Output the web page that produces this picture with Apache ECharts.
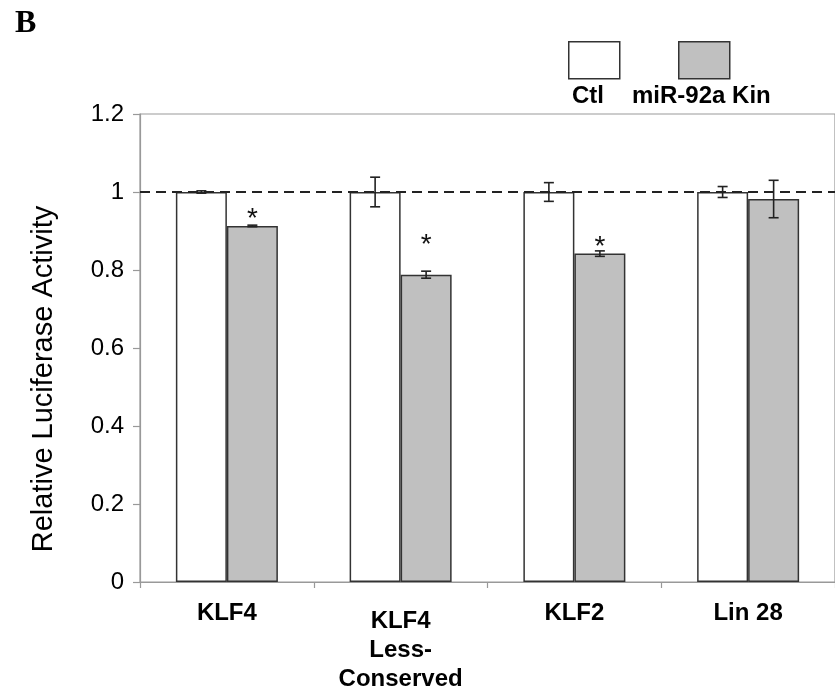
<!DOCTYPE html>
<html>
<head>
<meta charset="utf-8">
<script src="https://cdn.jsdelivr.net/npm/echarts@6/dist/echarts.min.js"></script>
<style>html,body{margin:0;padding:0;background:#fff;}#c{width:835px;height:694px;}</style>
</head>
<body>
<div id="c"></div>
<script>
var categories = ['KLF4', 'KLF4\nLess-\nConserved', 'KLF2', 'Lin 28'];
var ctlValues = [1, 1, 1, 1];
var ctlErr = [0.003, 0.038, 0.024, 0.014];
var kinValues = [0.913, 0.788, 0.842, 0.982];
var kinErr = [0.002, 0.009, 0.007, 0.048];
var starLevels = [0.944, 0.875, 0.872, null];
var seriesNames = ['Ctl', 'miR-92a Kin'];

var BAR_W = 51;
var chart = echarts.init(document.getElementById('c'), null, {renderer: 'canvas'});

function errSeries(vals, errs, side) {
  return {
    type: 'custom',
    z: 5,
    silent: true,
    data: vals.map(function (v, i) { return [i, v, errs[i]]; }),
    renderItem: function (params, api) {
      var i = api.value(0), v = api.value(1), e = api.value(2);
      var top = api.coord([i, v + e]);
      var bot = api.coord([i, v - e]);
      var x = top[0] + side * BAR_W / 2;
      var cap = 5;
      var st = {stroke: '#222', lineWidth: 1.6};
      return {
        type: 'group',
        children: [
          {type: 'line', shape: {x1: x, y1: top[1], x2: x, y2: bot[1]}, style: st},
          {type: 'line', shape: {x1: x - cap, y1: top[1], x2: x + cap, y2: top[1]}, style: st},
          {type: 'line', shape: {x1: x - cap, y1: bot[1], x2: x + cap, y2: bot[1]}, style: st}
        ]
      };
    }
  };
}

var starData = [];
starLevels.forEach(function (s, i) { if (s !== null) starData.push([i, s]); });

var legendCommon = {top: 36, itemWidth: 51, itemHeight: 37, icon: 'rect', selectedMode: false,
  formatter: function () { return ''; }, itemGap: 0,
  itemStyle: {borderColor: '#333', borderWidth: 1.5}};

var option = {
  animation: false,
  backgroundColor: '#fff',
  title: {
    text: 'B', left: 10, top: 3,
    textStyle: {fontFamily: 'Liberation Serif', fontWeight: 'bold', fontSize: 32, color: '#000'}
  },
  legend: [
    Object.assign({data: [seriesNames[0]], left: 563}, legendCommon),
    Object.assign({data: [seriesNames[1]], left: 673}, legendCommon)
  ],
  graphic: [
    {type: 'text', left: 572, top: 84, style: {text: seriesNames[0], font: 'bold 24px "Liberation Sans"', fill: '#000'}},
    {type: 'text', left: 632, top: 84, style: {text: seriesNames[1], font: 'bold 24px "Liberation Sans"', fill: '#000'}}
  ],
  grid: {left: 140, top: 114, width: 702, height: 470, show: true, borderColor: '#999', borderWidth: 1.2, backgroundColor: 'transparent'},
  xAxis: {
    type: 'category',
    data: categories.map(function (c, i) {
      return i === 1 ? {value: c, textStyle: {padding: [8, 0, 0, 0]}} : c;
    }),
    axisLine: {lineStyle: {color: '#999', width: 1.2}},
    axisTick: {show: true, length: 6, lineStyle: {color: '#999', width: 1.2}},
    axisLabel: {fontFamily: 'Liberation Sans', fontWeight: 'bold', fontSize: 24, color: '#000', margin: 17, lineHeight: 29}
  },
  yAxis: {
    type: 'value', min: 0, max: 1.2, interval: 0.2,
    name: 'Relative Luciferase Activity', nameLocation: 'middle', nameGap: 82, nameRotate: 90,
    nameTextStyle: {fontFamily: 'Liberation Sans', fontSize: 29, color: '#000', padding: [0, 62, 0, 0]},
    axisLine: {show: true, lineStyle: {color: '#999', width: 1.2}},
    axisTick: {show: true, length: 7, lineStyle: {color: '#999', width: 1.2}},
    splitLine: {show: false},
    axisLabel: {fontFamily: 'Liberation Sans', fontSize: 24, color: '#000', margin: 16}
  },
  series: [
    {
      name: seriesNames[0], type: 'bar', data: ctlValues, barWidth: BAR_W, barGap: '0%',
      itemStyle: {color: '#fff', borderColor: '#333', borderWidth: 1.5},
      markLine: {
        silent: true, symbol: 'none', label: {show: false},
        lineStyle: {color: '#222', type: [10, 6], width: 2},
        data: [{yAxis: 1}]
      }
    },
    {
      name: seriesNames[1], type: 'bar', data: kinValues, barWidth: BAR_W, barGap: '0%',
      itemStyle: {color: '#c0c0c0', borderColor: '#333', borderWidth: 1.5}
    },
    errSeries(ctlValues, ctlErr, -1),
    errSeries(kinValues, kinErr, 1),
    {
      type: 'custom', z: 6, silent: true, data: starData,
      renderItem: function (params, api) {
        var p = api.coord([api.value(0), api.value(1)]);
        return {type: 'text', style: {text: '*', x: p[0] + BAR_W / 2, y: p[1] + 5, align: 'center', verticalAlign: 'middle',
          font: '28px "Liberation Sans"', fill: '#111'}};
      }
    }
  ]
};
chart.setOption(option);
</script>
</body>
</html>
